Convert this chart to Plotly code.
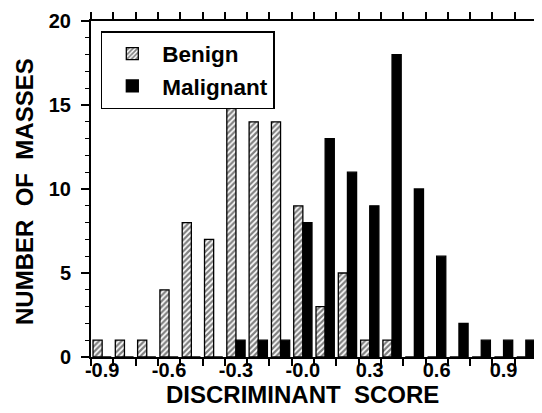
import plotly.graph_objects as go

bin_centers = [-0.9, -0.8, -0.7, -0.6, -0.5, -0.4, -0.3, -0.2, -0.1, 0.0,
               0.1, 0.2, 0.3, 0.4, 0.5, 0.6, 0.7, 0.8, 0.9, 1.0]
benign = [1, 1, 1, 4, 8, 7, 15, 14, 14, 9, 3, 5, 1, 1, 0, 0, 0, 0, 0, 0]
malignant = [0, 0, 0, 0, 0, 0, 1, 1, 1, 8, 13, 11, 9, 18, 10, 6, 2, 1, 1, 1]
x_tick_vals = [-0.9, -0.6, -0.3, 0.0, 0.3, 0.6, 0.9]
x_tick_text = ["-0.9", "-0.6", "-0.3", "-0.0", "0.3", "0.6", "0.9"]
y_tick_vals = [0, 5, 10, 15, 20]
x_title = "DISCRIMINANT\u00a0 SCORE"
y_title = "NUMBER\u00a0 OF\u00a0 MASSES"

FONT = "Liberation Sans"

fig = go.Figure()
fig.add_trace(go.Bar(
    x=bin_centers, y=benign, name="Benign",
    marker=dict(color="white", line=dict(color="black", width=1.3),
                pattern=dict(shape="/", fgcolor="black", bgcolor="white",
                             size=4, solidity=0.55)),
))
fig.add_trace(go.Bar(
    x=bin_centers, y=malignant, name="Malignant",
    marker=dict(color="black", line=dict(color="black", width=1.3)),
))

# page body has an 8px default margin, so the figure is 8px smaller
fig.update_layout(
    width=534, height=405,
    margin=dict(l=83, r=5, t=13, b=56),
    paper_bgcolor="white", plot_bgcolor="white",
    barmode="group", bargap=0.18, bargroupgap=0,
    font=dict(family=FONT, color="black", size=20, weight="bold"),
    legend=dict(
        x=0.022, y=0.97, xanchor="left", yanchor="top",
        bgcolor="white", bordercolor="black", borderwidth=1.5,
        font=dict(family=FONT, size=22.5, weight="bold", color="black"),
        itemwidth=50,
    ),
    xaxis=dict(
        range=[-0.95, 1.05], automargin=False,
        tickmode="array", tickvals=x_tick_vals, ticktext=x_tick_text,
        ticks="", ticklabelstandoff=-6,
        tickfont=dict(family=FONT, size=20, weight="bold"),
        minor=dict(tick0=-0.95, dtick=0.1, ticks="outside", ticklen=7,
                   tickwidth=1.5, tickcolor="black", showgrid=False),
        showline=True, linecolor="black", linewidth=2, mirror="allticks",
        showgrid=False, zeroline=False,
    ),
    yaxis=dict(
        range=[0, 20], automargin=False,
        tickmode="array", tickvals=y_tick_vals,
        ticks="outside", ticklen=8, tickwidth=1.5, tickcolor="black",
        ticklabelstandoff=6,
        tickfont=dict(family=FONT, size=20, weight="bold"),
        minor=dict(dtick=1, ticks="outside", ticklen=4, tickwidth=1.2,
                   tickcolor="black", showgrid=False),
        showline=True, linecolor="black", linewidth=2, mirror="allticks",
        showgrid=False, zeroline=False,
    ),
    annotations=[
        dict(text=x_title, xref="paper", yref="paper", x=0.5, y=0,
             xanchor="center", yanchor="middle", xshift=-12, yshift=-37,
             showarrow=False, font=dict(family=FONT, size=24, weight="bold")),
        dict(text=y_title, xref="paper", yref="paper", x=0, y=0.5,
             xanchor="center", yanchor="middle", xshift=-67, yshift=-3,
             textangle=-90, showarrow=False,
             font=dict(family=FONT, size=24, weight="bold")),
    ],
)

fig.write_html("out.html")
